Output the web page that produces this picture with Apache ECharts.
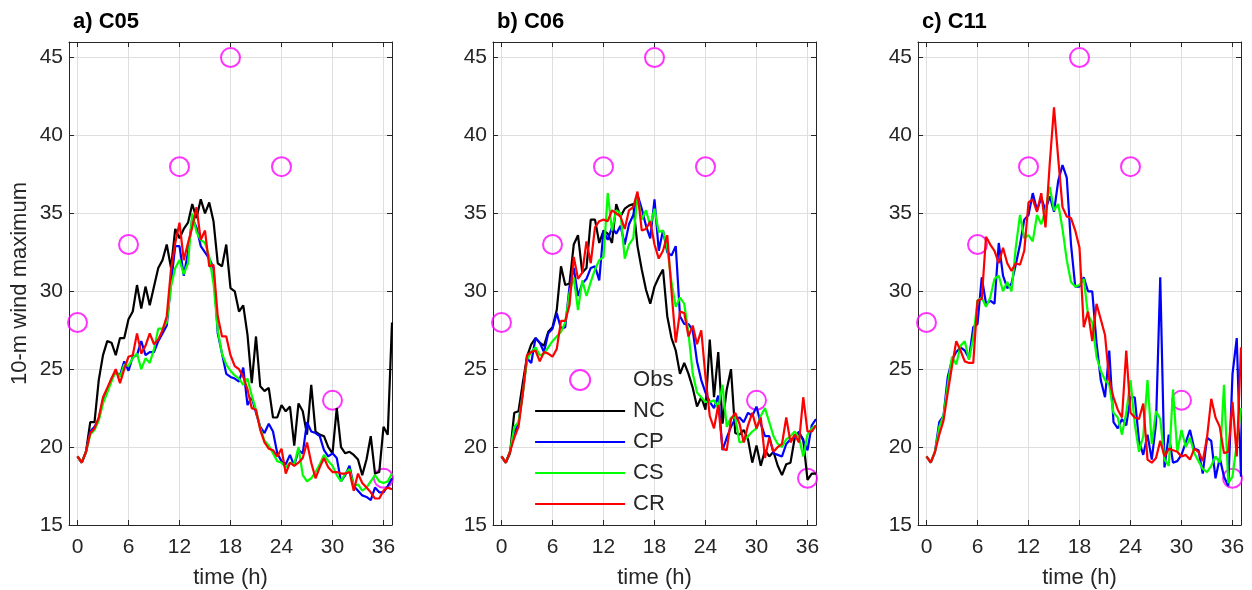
<!DOCTYPE html>
<html><head><meta charset="utf-8">
<script src="https://cdn.jsdelivr.net/npm/echarts@6/dist/echarts.min.js"></script>
<style>html,body{margin:0;padding:0;background:#fff}#c{width:1252px;height:590px}</style>
</head><body><div id="c"></div>
<script>
// ---------- data ----------
const TIME = [0,0.5,1,1.5,2,2.5,3,3.5,4,4.5,5,5.5,6,6.5,7,7.5,8,8.5,9,9.5,10,10.5,11,11.5,12,12.5,13,13.5,14,14.5,15,15.5,16,16.5,17,17.5,18,18.5,19,19.5,20,20.5,21,21.5,22,22.5,23,23.5,24,24.5,25,25.5,26,26.5,27,27.5,28,28.5,29,29.5,30,30.5,31,31.5,32,32.5,33,33.5,34,34.5,35,35.5,36,36.5,37];
const OBS_TIME = [0,6,12,18,24,30,36];
const OBS = [28,33,38,45,38,23,18];
const PANEL_TITLES = ['a) C05','b) C06','c) C11'];
const X_TICKS = [0,6,12,18,24,30,36];
const Y_TICKS = [15,20,25,30,35,40,45];

// panel a) C05
const A_NC = [19.4,19.0,19.7,21.6,21.6,24.3,25.9,26.8,26.7,25.9, 27.0,27.0,28.2,28.7,30.4,28.9,30.3,29.1,30.3,31.5, 32.0,33.0,31.5,34.0,33.4,34.0,34.4,35.6,34.7,35.9, 35.0,35.7,34.5,31.8,31.6,33.0,30.2,30.0,28.7,29.1, 27.2,24.1,27.1,23.9,23.6,23.8,21.9,21.9,22.7,22.3, 22.6,20.1,22.8,22.3,20.8,24.0,21.0,20.8,20.7,20.0, 19.6,22.5,20.0,19.6,19.7,19.5,19.2,18.2,19.2,20.7, 18.3,18.4,21.3,20.8,28.0];
const A_CP = [19.4,19.0,19.7,21.0,21.3,21.8,23.0,23.6,24.4,24.8, 24.6,25.5,24.9,25.8,25.9,26.8,25.9,26.1,26.1,26.8, 27.3,27.8,30.5,32.9,32.9,31.0,32.5,34.7,34.1,32.9, 32.5,32.1,31.5,27.3,26.0,24.7,24.5,24.4,24.2,25.1, 22.7,23.2,22.2,21.3,20.9,21.5,21.0,19.6,19.1,18.9, 19.5,18.8,19.8,19.6,21.6,21.0,20.9,20.7,19.8,19.4, 19.6,19.3,17.8,18.2,18.8,17.5,17.2,16.9,16.8,16.6, 17.4,17.1,17.1,17.5,18.0];
const A_CS = [19.4,19.0,19.7,20.8,21.1,21.7,22.8,23.5,24.2,24.9, 24.5,25.3,25.2,25.7,26.0,25.0,25.7,25.4,26.3,27.6, 27.6,28.0,30.3,31.5,32.0,31.1,31.8,35.0,33.8,33.3, 33.1,32.2,30.5,27.5,26.0,25.3,24.9,24.6,24.4,24.0, 24.4,23.3,22.4,21.2,20.4,20.1,19.6,19.1,19.0,18.7, 19.0,18.9,20.0,18.2,17.8,18.0,18.4,18.9,19.5,19.1, 18.8,18.2,17.8,18.3,18.6,17.5,17.6,17.2,17.4,17.8, 18.2,17.8,17.7,17.8,18.3];
const A_CR = [19.4,19.0,19.7,20.9,21.2,21.9,23.2,23.8,24.4,25.0, 24.1,25.0,25.8,25.9,27.3,26.0,26.5,27.3,26.6,26.9, 27.5,28.4,31.4,33.1,34.4,32.0,33.1,34.1,35.4,33.3, 33.9,31.6,31.7,28.4,27.1,27.1,25.9,25.2,25.0,24.5, 23.7,22.5,22.4,21.1,20.3,19.9,19.8,19.4,19.9,18.3, 19.0,18.8,19.0,19.3,20.3,19.0,18.0,18.7,19.3,18.7, 18.4,18.4,18.3,18.3,18.4,17.2,18.3,17.7,17.4,17.1, 16.7,16.7,17.2,17.4,17.3];

// panel b) C06
const B_NC = [19.4,19.0,19.6,22.2,22.3,24.1,25.8,26.6,27.0,26.7, 26.5,27.4,27.7,28.8,31.6,30.4,30.5,33.0,33.6,31.2, 31.5,34.6,34.6,33.1,33.9,33.7,33.1,35.6,34.8,35.3, 35.5,35.6,32.9,31.4,30.1,29.2,30.3,30.9,31.4,28.4, 27.0,26.2,24.7,25.4,24.7,23.8,22.6,23.2,22.4,26.9, 23.2,26.1,21.5,23.7,25.0,20.9,20.8,21.1,20.5,19.0, 20.1,18.8,19.8,19.4,19.7,18.8,18.2,18.9,19.0,20.6, 20.9,20.5,17.9,18.3,18.3];
const B_CP = [19.4,19.0,19.7,20.9,21.5,23.5,25.7,25.4,27.0,26.7, 26.1,27.3,27.6,28.6,27.6,27.7,30.3,31.5,29.7,30.5, 30.8,31.5,31.6,30.7,33.9,33.3,34.1,33.7,34.2,33.0, 34.3,34.9,36.2,35.3,34.2,33.4,35.9,32.6,33.9,32.5, 32.3,32.9,28.4,27.9,27.9,27.5,25.5,24.3,23.5,22.9, 22.5,23.3,19.8,20.6,21.3,21.8,21.9,21.6,22.2,22.0, 22.6,21.5,20.7,20.7,19.6,19.5,19.4,20.2,20.5,20.6, 21.0,20.4,19.8,21.4,21.8];
const B_CS = [19.4,19.0,19.7,21.3,21.6,23.4,25.6,26.1,26.4,25.9, 26.0,26.4,26.8,27.1,27.4,28.0,29.9,30.9,28.8,30.7, 29.7,30.6,31.4,32.0,32.2,36.3,33.9,35.2,35.0,32.1, 33.0,33.4,36.1,34.6,35.2,34.2,35.3,33.8,33.9,32.8, 30.6,29.0,29.6,29.2,27.3,24.7,23.5,23.2,22.9,22.9, 23.0,22.5,24.0,21.3,21.9,21.9,20.3,20.4,20.7,21.0, 21.2,22.0,22.5,21.6,20.7,20.2,20.0,20.5,20.7,21.0, 20.6,19.4,20.8,21.2,21.4];
const B_CR = [19.4,19.0,19.7,20.6,21.3,23.4,25.9,26.1,26.2,25.5, 26.1,26.0,25.8,26.3,28.1,28.1,29.1,32.2,30.8,31.2, 33.2,31.8,34.1,34.5,34.6,34.5,35.2,35.0,34.8,34.0, 35.2,35.4,36.4,33.9,34.0,34.5,33.0,32.1,32.6,33.6, 30.0,26.7,28.7,28.6,27.1,27.8,26.6,27.5,24.5,22.0, 21.2,22.7,19.9,19.8,21.8,22.2,21.5,20.3,21.4,22.2, 21.2,21.9,19.3,20.6,19.7,20.0,20.2,21.9,20.3,20.8, 20.3,23.2,21.0,21.0,21.4];

// panel c) C11
const C_CP = [19.4,19.0,19.7,21.6,22.0,24.5,25.6,26.1,26.4,26.2, 25.7,27.7,27.9,30.9,29.2,29.4,29.2,33.1,31.0,30.2, 30.5,31.7,33.0,34.6,34.9,36.3,35.2,36.0,35.2,36.1, 35.1,37.1,38.1,37.3,33.0,30.3,30.3,30.9,30.0,30.0, 26.7,24.3,23.2,26.2,21.6,21.2,21.8,21.4,23.2,23.2, 20.4,19.5,20.8,19.2,21.5,30.9,18.7,20.8,19.0,19.1, 19.5,20.3,21.1,19.9,19.8,18.3,20.6,20.4,18.0,19.3, 18.1,17.5,24.7,27.0,18.1];
const C_CS = [19.4,19.0,19.7,21.3,22.0,24.0,25.8,25.3,26.5,26.8, 25.6,27.0,29.4,29.6,29.0,29.6,30.8,31.0,30.0,30.6, 30.0,32.8,34.9,33.4,33.6,33.2,34.9,34.3,35.2,36.7, 35.2,35.6,34.0,32.0,30.6,30.3,30.4,30.8,28.5,28.0, 25.8,24.9,24.3,24.0,22.2,21.9,20.8,22.2,24.3,21.5, 19.7,20.7,24.3,20.2,22.3,21.8,19.2,18.8,23.7,19.7, 21.1,20.0,20.6,19.6,19.1,18.6,18.4,18.8,19.4,19.0, 24.0,17.7,18.1,20.2,22.5];
const C_CR = [19.4,19.0,19.7,20.8,21.7,23.5,25.2,26.8,26.2,25.5, 25.4,25.4,29.4,29.5,33.5,33.0,32.6,31.8,32.8,31.8, 31.3,31.8,31.7,32.6,35.7,35.9,35.1,36.3,34.1,38.2, 41.8,38.5,35.4,34.8,34.7,33.9,32.8,27.7,28.7,26.8, 29.2,28.2,27.2,24.3,23.2,22.4,21.9,26.2,22.2,21.9, 21.8,22.8,19.2,19.0,19.3,20.4,19.4,19.9,19.8,19.7, 19.4,19.5,19.2,19.9,19.7,19.1,20.6,23.1,21.9,21.3, 19.6,19.7,22.9,19.4,26.4];

const PANELS = [
  {NC: A_NC, CP: A_CP, CS: A_CS, CR: A_CR},
  {NC: B_NC, CP: B_CP, CS: B_CS, CR: B_CR},
  {CP: C_CP, CS: C_CS, CR: C_CR}
];

// ---------- styling ----------
const FONT = '"Liberation Sans", Arial, Helvetica, sans-serif';
const TXT = '#262626';
const GRID_LEFT = [69, 493, 918];
const GRID_TOP = 42, GRID_W = 323, GRID_H = 483;
const COLORS = {NC: '#000000', CP: '#0000ff', CS: '#00ff00', CR: '#ff0000'};
const OBS_COLOR = '#ff00ff';
const LINE_W = 2.2;

const grids = [], xAxes = [], yAxes = [], series = [], titles = [];
for (let i = 0; i < 3; i++) {
  grids.push({left: GRID_LEFT[i], top: GRID_TOP, width: GRID_W, height: GRID_H, outerBoundsMode: 'none', containLabel: false});
  titles.push({text: PANEL_TITLES[i], left: GRID_LEFT[i] - 1, top: 6,
    textStyle: {fontFamily: FONT, fontSize: 22, fontWeight: 'bold', color: '#000'}});
  const axLine = {show: true, onZero: false, lineStyle: {color: TXT, width: 1}};
  // bottom x
  xAxes.push({type: 'value', gridIndex: i, position: 'bottom', min: -1, max: 37,
    axisLine: axLine,
    axisTick: {show: true, inside: true, length: 5, customValues: X_TICKS, lineStyle: {color: TXT}},
    axisLabel: {customValues: X_TICKS, fontFamily: FONT, fontSize: 21, color: TXT, margin: 12},
    splitLine: {show: true, lineStyle: {color: '#dfdfdf', width: 1}},
    name: 'time (h)', nameLocation: 'middle', nameGap: 42,
    nameTextStyle: {fontFamily: FONT, fontSize: 22, color: TXT}});
  // top x (box)
  xAxes.push({type: 'value', gridIndex: i, position: 'top', min: -1, max: 37,
    axisLine: axLine,
    axisTick: {show: true, inside: true, length: 5, customValues: X_TICKS, lineStyle: {color: TXT}},
    axisLabel: {show: false}, splitLine: {show: false}});
  // left y
  const yl = {type: 'value', gridIndex: i, position: 'left', min: 15, max: 46,
    axisLine: axLine,
    axisTick: {show: true, inside: true, length: 5, customValues: Y_TICKS, lineStyle: {color: TXT}},
    axisLabel: {customValues: Y_TICKS, fontFamily: FONT, fontSize: 21, color: TXT, margin: 6, padding: [5, 0, 0, 0]},
    splitLine: {show: true, lineStyle: {color: '#dfdfdf', width: 1}}};
  if (i === 0) {
    yl.name = '10-m wind maximum'; yl.nameLocation = 'middle'; yl.nameGap = 38;
    yl.nameTextStyle = {fontFamily: FONT, fontSize: 22, color: TXT};
  }
  yAxes.push(yl);
  // right y (box)
  yAxes.push({type: 'value', gridIndex: i, position: 'right', min: 15, max: 46,
    axisLine: axLine,
    axisTick: {show: true, inside: true, length: 5, customValues: Y_TICKS, lineStyle: {color: TXT}},
    axisLabel: {show: false}, splitLine: {show: false}});

  const xi = 2 * i, yi = 2 * i;
  series.push({name: 'Obs', type: 'scatter', xAxisIndex: xi, yAxisIndex: yi,
    data: OBS_TIME.map((t, k) => [t, OBS[k]]),
    symbol: 'circle', symbolSize: 19,
    itemStyle: {color: 'rgba(0,0,0,0)', borderColor: OBS_COLOR, borderWidth: 2},
    emphasis: {disabled: true}, silent: true, z: 2});
  ['NC', 'CP', 'CS', 'CR'].forEach(k => {
    const vals = PANELS[i][k];
    if (!vals) return;
    series.push({name: k, type: 'line', xAxisIndex: xi, yAxisIndex: yi,
      data: TIME.map((t, j) => [t, vals[j]]),
      symbol: 'none', showSymbol: false,
      lineStyle: {color: COLORS[k], width: LINE_W},
      itemStyle: {color: COLORS[k]},
      emphasis: {disabled: true}, silent: true, z: 3});
  });
}

const hiddenSym = {color: 'rgba(0,0,0,0)', borderColor: 'rgba(0,0,0,0)', borderWidth: 0, opacity: 0};
const option = {
  backgroundColor: '#ffffff',
  animation: false,
  title: titles,
  grid: grids,
  xAxis: xAxes,
  yAxis: yAxes,
  legend: {
    orient: 'vertical', left: 529, top: 364,
    itemWidth: 90, itemHeight: 20, itemGap: 9,
    selectedMode: false,
    textStyle: {fontFamily: FONT, fontSize: 22, color: TXT, padding: [0, 0, 0, 3]},
    data: [
      {name: 'Obs', icon: 'circle', itemStyle: {color: 'rgba(0,0,0,0)', borderColor: OBS_COLOR, borderWidth: 2}},
      {name: 'NC', itemStyle: hiddenSym, lineStyle: {color: COLORS.NC, width: LINE_W}},
      {name: 'CP', itemStyle: hiddenSym, lineStyle: {color: COLORS.CP, width: LINE_W}},
      {name: 'CS', itemStyle: hiddenSym, lineStyle: {color: COLORS.CS, width: LINE_W}},
      {name: 'CR', itemStyle: hiddenSym, lineStyle: {color: COLORS.CR, width: LINE_W}}
    ]
  },
  series: series
};
const chart = echarts.init(document.getElementById('c'), null, {renderer: 'canvas'});
chart.setOption(option);
</script>
</body></html>
